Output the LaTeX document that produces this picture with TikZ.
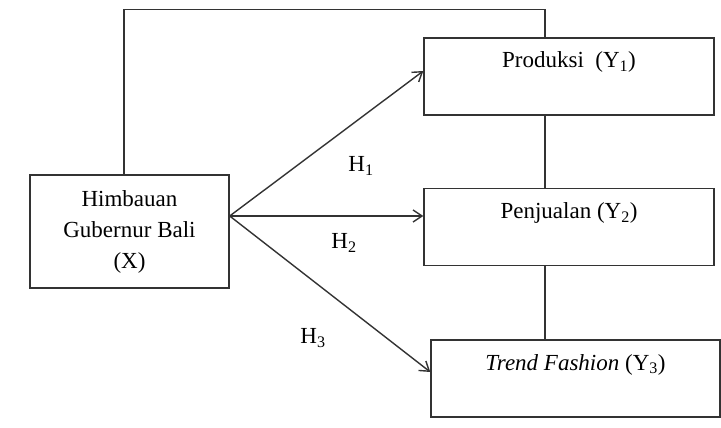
\documentclass[tikz,border=0pt]{standalone}
\usepackage{fontspec}
\setmainfont{Liberation Serif}
\usetikzlibrary{positioning, arrows.meta}

\tikzset{
	varbox/.style={draw,rectangle,align=center,inner xsep=4pt,inner ysep=8pt,
		text height=22pt,text depth=39pt,minimum width=290pt},
	link/.style={line width=1.4pt,black!80},
	hyp/.style={link,-{Straight Barb[length=9pt,width=12pt]}}
}

\begin{document}
\begin{tikzpicture}[x=1pt,y=-1pt,font=\fontsize{23}{31}\selectfont]
		\useasboundingbox (0,0) rectangle (721,428);

		\node[draw,rectangle,align=center,line width=1.4pt,black!80,text=black,minimum width=199pt,minimum height=113pt] (X) at (129.5,231.5)
			{Himbauan\\Gubernur Bali\\(X)};

		\node[varbox,link,text=black] (prod) at (569,76.5) {Produksi~ (Y\textsubscript{1})};
		\node[varbox,link,text=black] (jual) at (569,227) {Penjualan (Y\textsubscript{2})};
		\node[varbox,link,text=black,minimum width=289pt] (trend) at (575.5,378.5) {\textit{Trend Fashion} (Y\textsubscript{3})};

		\coordinate (src) at ([yshift=15.5pt]X.east);
		\draw[hyp] (src) -- ([yshift=5.5pt]prod.west);
		\draw[hyp] (src) -- ([yshift=11pt]jual.west);
		\draw[hyp] (src) -- ([yshift=6.5pt]trend.west);

		\draw[link] ([xshift=-5.5pt]X.north) |- ([xshift=-24pt,yshift=28pt]prod.north) -- ([xshift=-24pt]prod.north);
		\draw[link] ([xshift=-24pt]prod.south) -- ([xshift=-24pt]jual.north);
		\draw[link] ([xshift=-24pt]jual.south) -- ([xshift=-30.5pt]trend.north);

		\node (h1) at (361,166) {H\textsubscript{1}};
		\node (h2) at (344,243) {H\textsubscript{2}};
		\node (h3) at (313,338) {H\textsubscript{3}};
	\end{tikzpicture}
\end{document}
